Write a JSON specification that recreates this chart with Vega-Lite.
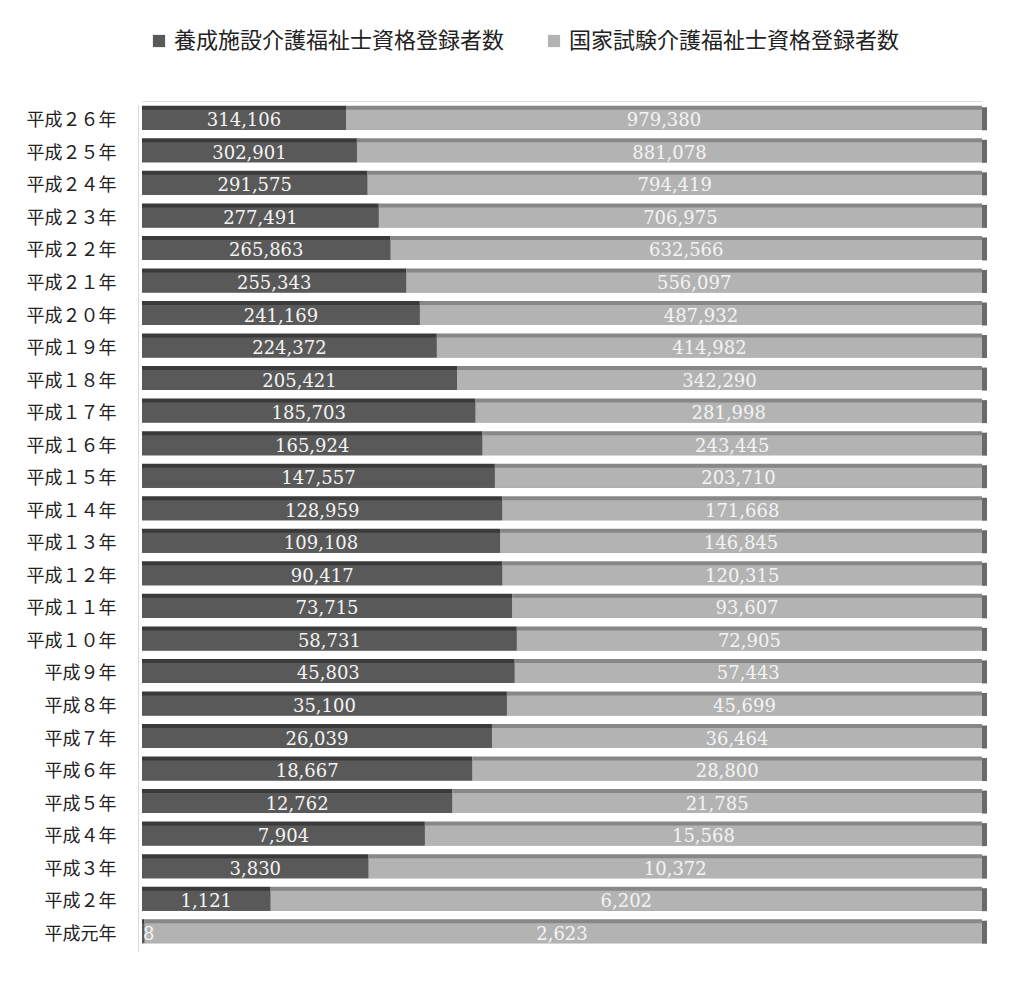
{
  "$schema": "https://vega.github.io/schema/vega-lite/v6.json",
  "autosize": "none",
  "width": 840,
  "height": 846,
  "padding": {"left": 142, "top": 105, "right": 40, "bottom": 34},
  "background": "white",
  "config": {"view": {"stroke": null}, "font": "Noto Sans CJK JP"},
  "data": {"values": [
    {"year": "平成２６年", "養成施設介護福祉士資格登録者数": 314106, "国家試験介護福祉士資格登録者数": 979380},
    {"year": "平成２５年", "養成施設介護福祉士資格登録者数": 302901, "国家試験介護福祉士資格登録者数": 881078},
    {"year": "平成２４年", "養成施設介護福祉士資格登録者数": 291575, "国家試験介護福祉士資格登録者数": 794419},
    {"year": "平成２３年", "養成施設介護福祉士資格登録者数": 277491, "国家試験介護福祉士資格登録者数": 706975},
    {"year": "平成２２年", "養成施設介護福祉士資格登録者数": 265863, "国家試験介護福祉士資格登録者数": 632566},
    {"year": "平成２１年", "養成施設介護福祉士資格登録者数": 255343, "国家試験介護福祉士資格登録者数": 556097},
    {"year": "平成２０年", "養成施設介護福祉士資格登録者数": 241169, "国家試験介護福祉士資格登録者数": 487932},
    {"year": "平成１９年", "養成施設介護福祉士資格登録者数": 224372, "国家試験介護福祉士資格登録者数": 414982},
    {"year": "平成１８年", "養成施設介護福祉士資格登録者数": 205421, "国家試験介護福祉士資格登録者数": 342290},
    {"year": "平成１７年", "養成施設介護福祉士資格登録者数": 185703, "国家試験介護福祉士資格登録者数": 281998},
    {"year": "平成１６年", "養成施設介護福祉士資格登録者数": 165924, "国家試験介護福祉士資格登録者数": 243445},
    {"year": "平成１５年", "養成施設介護福祉士資格登録者数": 147557, "国家試験介護福祉士資格登録者数": 203710},
    {"year": "平成１４年", "養成施設介護福祉士資格登録者数": 128959, "国家試験介護福祉士資格登録者数": 171668},
    {"year": "平成１３年", "養成施設介護福祉士資格登録者数": 109108, "国家試験介護福祉士資格登録者数": 146845},
    {"year": "平成１２年", "養成施設介護福祉士資格登録者数": 90417, "国家試験介護福祉士資格登録者数": 120315},
    {"year": "平成１１年", "養成施設介護福祉士資格登録者数": 73715, "国家試験介護福祉士資格登録者数": 93607},
    {"year": "平成１０年", "養成施設介護福祉士資格登録者数": 58731, "国家試験介護福祉士資格登録者数": 72905},
    {"year": "平成９年", "養成施設介護福祉士資格登録者数": 45803, "国家試験介護福祉士資格登録者数": 57443},
    {"year": "平成８年", "養成施設介護福祉士資格登録者数": 35100, "国家試験介護福祉士資格登録者数": 45699},
    {"year": "平成７年", "養成施設介護福祉士資格登録者数": 26039, "国家試験介護福祉士資格登録者数": 36464},
    {"year": "平成６年", "養成施設介護福祉士資格登録者数": 18667, "国家試験介護福祉士資格登録者数": 28800},
    {"year": "平成５年", "養成施設介護福祉士資格登録者数": 12762, "国家試験介護福祉士資格登録者数": 21785},
    {"year": "平成４年", "養成施設介護福祉士資格登録者数": 7904, "国家試験介護福祉士資格登録者数": 15568},
    {"year": "平成３年", "養成施設介護福祉士資格登録者数": 3830, "国家試験介護福祉士資格登録者数": 10372},
    {"year": "平成２年", "養成施設介護福祉士資格登録者数": 1121, "国家試験介護福祉士資格登録者数": 6202},
    {"year": "平成元年", "養成施設介護福祉士資格登録者数": 8, "国家試験介護福祉士資格登録者数": 2623}
  ]},
  "transform": [
    {"fold": ["養成施設介護福祉士資格登録者数", "国家試験介護福祉士資格登録者数"], "as": ["series", "value"]}
  ],
  "encoding": {
    "y": {
      "field": "year", "type": "nominal", "sort": null,
      "scale": {"paddingInner": 0, "paddingOuter": 0},
      "axis": {"title": null, "ticks": false, "labelPadding": 22, "offset": 4, "domainColor": "#d9d9d9", "labelFontSize": 18, "labelColor": "#222222", "labelFont": "Noto Sans CJK JP"}
    }
  },
  "layer": [
    {
      "mark": {"type": "bar", "height": 24, "yOffset": -3.5},
      "encoding": {
        "x": {"field": "value", "type": "quantitative", "stack": "normalize", "axis": {"orient": "top", "labels": false, "ticks": false, "grid": false, "title": null, "domainColor": "#dddddd", "offset": 4}},
        "order": {"field": "series", "sort": "descending"},
        "color": {"condition": {"test": "datum.series === '養成施設介護福祉士資格登録者数'", "value": "#3a3a3a"}, "value": "#878787"}
      }
    },
    {
      "mark": {"type": "bar", "height": 20, "yOffset": -1.5},
      "encoding": {
        "x": {"field": "value", "type": "quantitative", "stack": "normalize", "axis": {"orient": "top", "labels": false, "ticks": false, "grid": false, "title": null, "domainColor": "#dddddd", "offset": 4}},
        "order": {"field": "series", "sort": "descending"},
        "color": {
          "field": "series", "type": "nominal",
          "scale": {"domain": ["養成施設介護福祉士資格登録者数", "国家試験介護福祉士資格登録者数"], "range": ["#595959", "#b3b3b3"]},
          "legend": {"title": null, "orient": "none", "legendX": 6, "legendY": -75, "direction": "horizontal", "symbolType": "square", "symbolSize": 150, "symbolStrokeWidth": 0, "symbolOpacity": 1, "labelFontSize": 22, "labelColor": "#222222", "labelFont": "Noto Sans CJK JP", "labelLimit": 400, "labelOffset": 4, "columnPadding": 38, "padding": 0}
        }
      }
    },
    {
      "transform": [{"filter": "datum.series === '国家試験介護福祉士資格登録者数'"}],
      "mark": {"type": "tick", "thickness": 5, "size": 23, "yOffset": -2.5, "xOffset": 2.5, "color": "#6a6a6a", "opacity": 1},
      "encoding": {
        "x": {"datum": 1, "type": "quantitative"}
      }
    },
    {
      "transform": [{"filter": "datum.value >= 100"}],
      "mark": {"type": "text", "font": "DejaVu Serif", "fontSize": 18, "color": "#f4f4f4", "baseline": "middle", "align": "center"},
      "encoding": {
        "x": {"field": "value", "type": "quantitative", "stack": "normalize", "bandPosition": 0.5, "axis": {"orient": "top", "labels": false, "ticks": false, "grid": false, "title": null, "domainColor": "#dddddd", "offset": 4}},
        "order": {"field": "series", "sort": "descending"},
        "detail": {"field": "series"},
        "text": {"field": "value", "type": "quantitative", "format": ","}
      }
    },
    {
      "transform": [{"filter": "datum.value < 100"}],
      "mark": {"type": "text", "font": "DejaVu Serif", "fontSize": 18, "color": "#f4f4f4", "baseline": "middle", "align": "left", "dx": 1},
      "encoding": {
        "x": {"datum": 0, "type": "quantitative"},
        "text": {"field": "value", "type": "quantitative", "format": ","}
      }
    }
  ]
}
